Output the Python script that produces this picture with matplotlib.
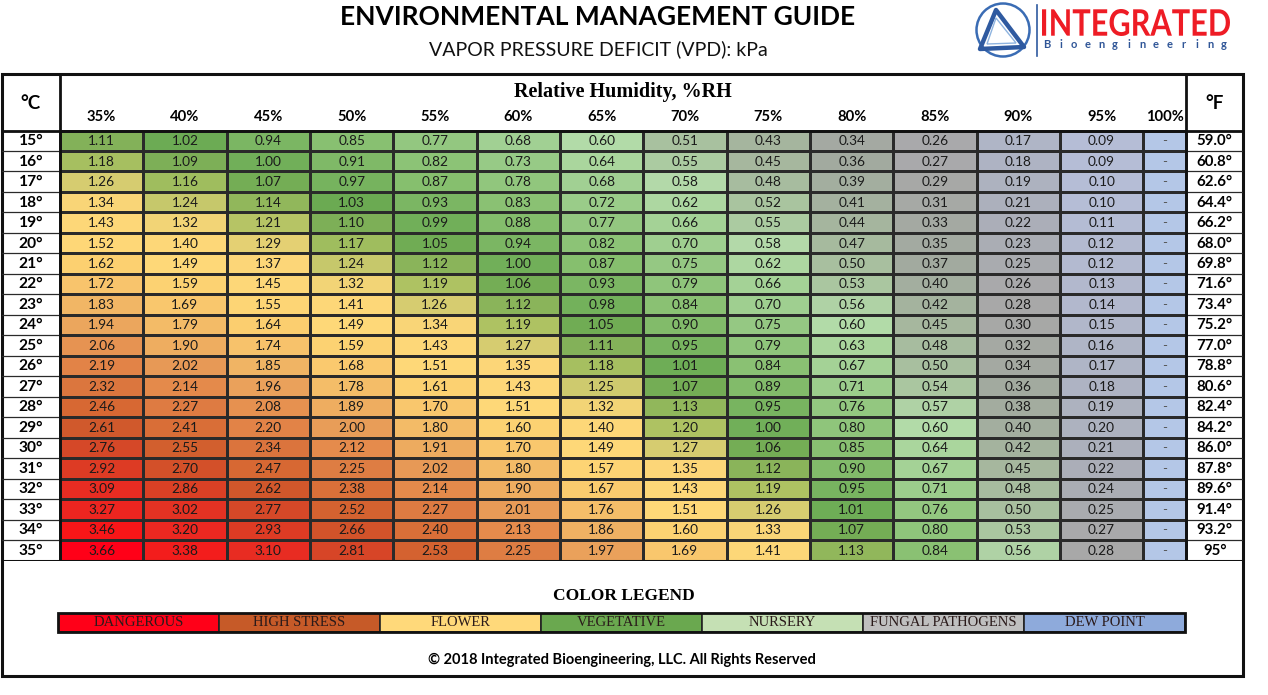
import numpy as np
import matplotlib
matplotlib.use('Agg')
import matplotlib.pyplot as plt
from matplotlib.colors import LinearSegmentedColormap
from matplotlib.patches import Rectangle, Circle, Polygon, PathPatch
from matplotlib.textpath import TextPath
from matplotlib.font_manager import FontProperties
import matplotlib.transforms as mtransforms

# ---------------- data ----------------
temps_c = [15, 16, 17, 18, 19, 20, 21, 22, 23, 24, 25, 26, 27, 28, 29, 30, 31, 32, 33, 34, 35]
temps_f = ['59.0°', '60.8°', '62.6°', '64.4°', '66.2°', '68.0°', '69.8°', '71.6°', '73.4°',
           '75.2°', '77.0°', '78.8°', '80.6°', '82.4°', '84.2°', '86.0°', '87.8°', '89.6°',
           '91.4°', '93.2°', '95°']
rh_labels = ['35%', '40%', '45%', '50%', '55%', '60%', '65%', '70%', '75%', '80%',
             '85%', '90%', '95%', '100%']

r15 = [1.11, 1.02, 0.94, 0.85, 0.77, 0.68, 0.60, 0.51, 0.43, 0.34, 0.26, 0.17, 0.09]
r16 = [1.18, 1.09, 1.00, 0.91, 0.82, 0.73, 0.64, 0.55, 0.45, 0.36, 0.27, 0.18, 0.09]
r17 = [1.26, 1.16, 1.07, 0.97, 0.87, 0.78, 0.68, 0.58, 0.48, 0.39, 0.29, 0.19, 0.10]
r18 = [1.34, 1.24, 1.14, 1.03, 0.93, 0.83, 0.72, 0.62, 0.52, 0.41, 0.31, 0.21, 0.10]
r19 = [1.43, 1.32, 1.21, 1.10, 0.99, 0.88, 0.77, 0.66, 0.55, 0.44, 0.33, 0.22, 0.11]
r20 = [1.52, 1.40, 1.29, 1.17, 1.05, 0.94, 0.82, 0.70, 0.58, 0.47, 0.35, 0.23, 0.12]
r21 = [1.62, 1.49, 1.37, 1.24, 1.12, 1.00, 0.87, 0.75, 0.62, 0.50, 0.37, 0.25, 0.12]
r22 = [1.72, 1.59, 1.45, 1.32, 1.19, 1.06, 0.93, 0.79, 0.66, 0.53, 0.40, 0.26, 0.13]
r23 = [1.83, 1.69, 1.55, 1.41, 1.26, 1.12, 0.98, 0.84, 0.70, 0.56, 0.42, 0.28, 0.14]
r24 = [1.94, 1.79, 1.64, 1.49, 1.34, 1.19, 1.05, 0.90, 0.75, 0.60, 0.45, 0.30, 0.15]
r25 = [2.06, 1.90, 1.74, 1.59, 1.43, 1.27, 1.11, 0.95, 0.79, 0.63, 0.48, 0.32, 0.16]
r26 = [2.19, 2.02, 1.85, 1.68, 1.51, 1.35, 1.18, 1.01, 0.84, 0.67, 0.50, 0.34, 0.17]
r27 = [2.32, 2.14, 1.96, 1.78, 1.61, 1.43, 1.25, 1.07, 0.89, 0.71, 0.54, 0.36, 0.18]
r28 = [2.46, 2.27, 2.08, 1.89, 1.70, 1.51, 1.32, 1.13, 0.95, 0.76, 0.57, 0.38, 0.19]
r29 = [2.61, 2.41, 2.20, 2.00, 1.80, 1.60, 1.40, 1.20, 1.00, 0.80, 0.60, 0.40, 0.20]
r30 = [2.76, 2.55, 2.34, 2.12, 1.91, 1.70, 1.49, 1.27, 1.06, 0.85, 0.64, 0.42, 0.21]
r31 = [2.92, 2.70, 2.47, 2.25, 2.02, 1.80, 1.57, 1.35, 1.12, 0.90, 0.67, 0.45, 0.22]
r32 = [3.09, 2.86, 2.62, 2.38, 2.14, 1.90, 1.67, 1.43, 1.19, 0.95, 0.71, 0.48, 0.24]
r33 = [3.27, 3.02, 2.77, 2.52, 2.27, 2.01, 1.76, 1.51, 1.26, 1.01, 0.76, 0.50, 0.25]
r34 = [3.46, 3.20, 2.93, 2.66, 2.40, 2.13, 1.86, 1.60, 1.33, 1.07, 0.80, 0.53, 0.27]
r35 = [3.66, 3.38, 3.10, 2.81, 2.53, 2.25, 1.97, 1.69, 1.41, 1.13, 0.84, 0.56, 0.28]
vpd_rows = [r15, r16, r17, r18, r19, r20, r21, r22, r23, r24, r25, r26, r27, r28,
            r29, r30, r31, r32, r33, r34, r35]

legend_labels = ['DANGEROUS', 'HIGH STRESS', 'FLOWER', 'VEGETATIVE', 'NURSERY',
                 'FUNGAL PATHOGENS', 'DEW POINT']
legend_colors = ['#ff0018', '#c65a28', '#ffd97a', '#6aa84f', '#c5e0b4', '#bfbfbf', '#8eaadb']

# ---------------- styling ----------------
SANS = ['Lato', 'DejaVu Sans']
SERIF = ['Liberation Serif', 'DejaVu Serif']
anchors = [
    (0.00, '#b8c6e4'), (0.10, '#b4bcd4'), (0.20, '#acb0bc'), (0.27, '#a8a8a8'),
    (0.36, '#a2aa9f'), (0.45, '#a6b89e'), (0.54, '#aac8a0'), (0.58, '#b4dcaa'),
    (0.66, '#a4d296'), (0.75, '#94c882'), (0.85, '#88c070'), (0.95, '#78b460'),
    (1.03, '#6aaa52'), (1.10, '#80b058'), (1.18, '#a8c060'), (1.26, '#d4cc70'),
    (1.34, '#fcd678'), (1.50, '#fed878'), (1.62, '#fcd070'), (1.72, '#f8c46c'),
    (1.85, '#f0b464'), (2.00, '#e89c58'), (2.15, '#e4884a'), (2.30, '#dc7840'),
    (2.45, '#d86a34'), (2.60, '#d05a2c'), (2.75, '#d44a28'), (2.92, '#dc3c24'),
    (3.10, '#e82c22'), (3.30, '#ee2420'), (3.46, '#f81818'), (3.66, '#ff0018')]
vmax = anchors[-1][0]
cmap = LinearSegmentedColormap.from_list('vpd', [(a / vmax, c) for a, c in anchors])
cmap.set_bad('#b4c7e7')

W, H = 1268, 695
fig = plt.figure(figsize=(W / 100, H / 100), dpi=100)
fig.patch.set_facecolor('white')

bg = fig.add_axes([0, 0, 1, 1])
bg.set_xlim(0, W)
bg.set_ylim(H, 0)
bg.axis('off')
bg.set_zorder(0)

# page layout (pixels)
L, R, T, HB, DB, FB = 2, 1243, 74, 130.5, 560.5, 676
X0 = 60.0
CW = 83.33
n_rows = len(temps_c)
RH = (DB - HB) / n_rows

# titles
bg.text(598, 17, 'ENVIRONMENTAL MANAGEMENT GUIDE', ha='center', va='center',
        fontsize=19, fontweight='bold', family=SANS, color='#000000')
bg.text(598, 49, 'VAPOR PRESSURE DEFICIT (VPD): kPa', ha='center', va='center',
        fontsize=14, family=SANS, color='#111111')

# logo
bg.add_patch(Circle((1003, 30), 26.5, fill=False, ec='#3a6cb4', lw=1.8))
bg.add_patch(Polygon([(996, 10), (980, 49), (1024, 47)], closed=True, fill=False,
                     ec='#2f5aa0', lw=3.2, joinstyle='round'))
bg.add_patch(Polygon([(996, 18), (987, 44), (1016, 43)], closed=True, fill=False,
                     ec='#8fb4e0', lw=1.0))
bg.plot([1037, 1037], [5, 56], color='#2f5aa0', lw=1.2)
tp = TextPath((0, 0), 'INTEGRATED', size=1, prop=FontProperties(family=SANS, weight='bold'))
ext = tp.get_extents()
sx = (1230 - 1042) / ext.width
sy = (36 - 9) / ext.height
tr = mtransforms.Affine2D().translate(-ext.x0, -ext.y0).scale(sx, -sy).translate(1042, 36)
bg.add_patch(PathPatch(tr.transform_path(tp), fc='#ee1c25', ec='none'))
for ch, xx in zip('Bioengineering', np.linspace(1047, 1224, 14)):
    bg.text(xx, 45, ch, ha='center', va='center', fontsize=8, fontweight='bold',
            family=SANS, color='#2f5597')

# outer frame
bg.add_patch(Rectangle((L, T), R - L, FB - T, fill=False, ec='#111111', lw=2.2, zorder=5))

# ---------------- table ----------------
ax = fig.add_axes([L / W, 1 - DB / H, (R - L) / W, (DB - T) / H])
ax.set_zorder(1)
ax.patch.set_alpha(0)
xmin = -(X0 - L) / CW
xmax = (R - X0) / CW
ytop = -(HB - T) / RH
ax.set_xlim(xmin, xmax)
ax.set_ylim(n_rows, ytop)
ax.axis('off')

n_cols = len(vpd_rows[0])
w100 = 43 / CW
vals = np.full((n_rows, n_cols + 1), np.nan)
vals[:, :n_cols] = np.array(vpd_rows)
xedges = np.append(np.arange(n_cols + 1), n_cols + w100)
yedges = np.arange(n_rows + 1)
ax.pcolormesh(xedges, yedges, np.ma.masked_invalid(vals), cmap=cmap, vmin=0, vmax=vmax,
              edgecolors='#2a2a2a', linewidth=0.9)

xc = (xedges[:-1] + xedges[1:]) / 2
for i in range(n_rows):
    for j in range(n_cols):
        ax.text(xc[j], i + 0.52, f'{vals[i, j]:.2f}', ha='center', va='center',
                fontsize=9.8, family=SANS, color='#1a1a1a')
    ax.text(xc[n_cols], i + 0.52, '-', ha='center', va='center', fontsize=9.5,
            family=SANS, color='#555555')
    ax.text(xmin / 2, i + 0.52, f'{temps_c[i]}°', ha='center', va='center',
            fontsize=11.2, fontweight='bold', family=SANS, color='#000000')
    ax.text((xedges[-1] + xmax) / 2, i + 0.52, temps_f[i], ha='center', va='center',
            fontsize=10.8, fontweight='bold', family=SANS, color='#000000')

# row lines in side columns
for y in range(n_rows + 1):
    ax.plot([xmin, 0], [y, y], color='#2a2a2a', lw=0.9)
    ax.plot([xedges[-1], xmax], [y, y], color='#2a2a2a', lw=0.9)
# thick structural lines
ax.plot([xmin, xmax], [0, 0], color='#111111', lw=2.0)
ax.plot([xmin, xmax], [n_rows, n_rows], color='#111111', lw=2.2)
ax.plot([0, 0], [ytop, n_rows], color='#111111', lw=2.0)
ax.plot([xedges[-1], xedges[-1]], [ytop, n_rows], color='#111111', lw=2.0)

# header text
ax.text(xmin / 2, ytop / 2 + 0.05, '°C', ha='center', va='center', fontsize=13.5,
        fontweight='bold', family=SANS)
ax.text((xedges[-1] + xmax) / 2, ytop / 2 + 0.05, '°F', ha='center', va='center',
        fontsize=13.5, fontweight='bold', family=SANS)
ax.text(xedges[-1] / 2, ytop * 0.69, 'Relative Humidity, %RH', ha='center', va='center',
        fontsize=14.5, fontweight='bold', family=SERIF)
for j, lab in enumerate(rh_labels):
    ax.text(xc[j], ytop * 0.24, lab, ha='center', va='center', fontsize=10.6,
            fontweight='bold', family=SANS)

# ---------------- colour legend ----------------
bg.text(624, 596, 'COLOR LEGEND', ha='center', va='center', fontsize=12.5,
        fontweight='bold', family=SERIF)
lg = fig.add_axes([58 / W, 1 - 632 / H, (1185 - 58) / W, (632 - 613) / H])
lg.set_zorder(2)
lg.set_xlim(0, len(legend_labels))
lg.set_ylim(-0.5, 0.5)
lg.axis('off')
lg.barh(0, 1, left=np.arange(len(legend_labels)), height=1, color=legend_colors,
        edgecolor='#222222', linewidth=1.2)
for k, lab in enumerate(legend_labels):
    lg.text(k + 0.5, 0, lab, ha='center', va='center', fontsize=10.5, family=SERIF,
            color='#2a1a1a')
lg.add_patch(Rectangle((0, -0.5), len(legend_labels), 1, fill=False, ec='#111111', lw=2.0,
                       clip_on=False))

bg.text(622, 660, '© 2018 Integrated Bioengineering, LLC. All Rights Reserved',
        ha='center', va='center', fontsize=10.5, fontweight='bold', family=SANS)

fig.savefig('out.png', dpi=100, facecolor='white')
